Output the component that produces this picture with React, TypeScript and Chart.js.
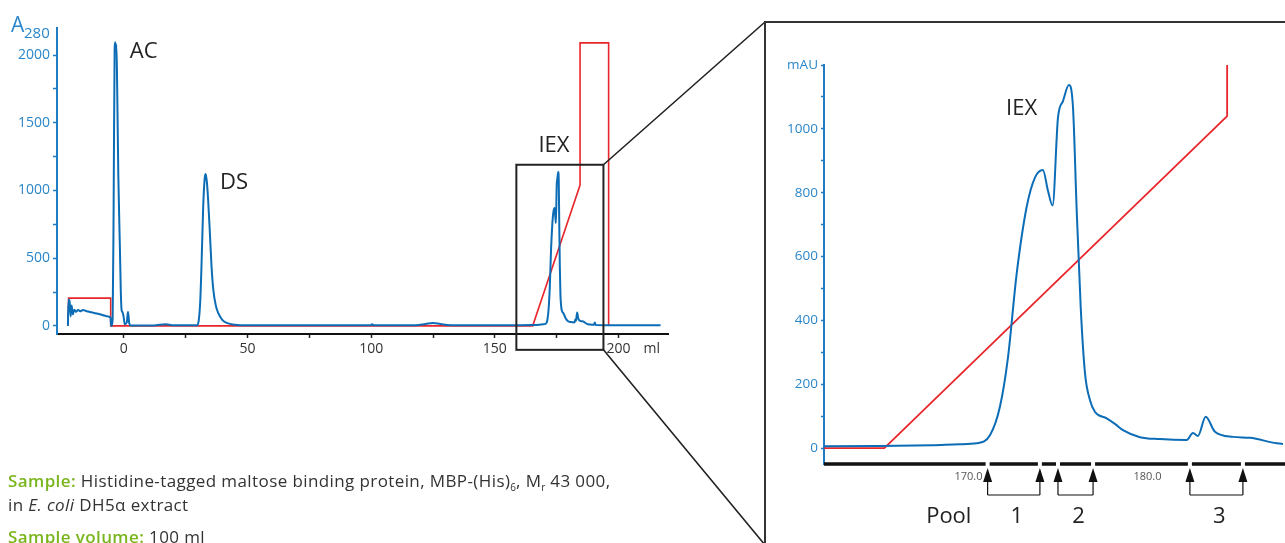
import React, { useEffect, useRef } from 'react';
import { Chart, registerables } from 'chart.js';

Chart.register(...registerables);

// ---- Data -------------------------------------------------------------
// A280 trace (mAU) against elution volume (ml)
const chromVolume = [
  -22.6, -22.3, -21.9, -21.5, -21.1, -20.6, -20.0, -19.3, -18.5, -17.6, -16.5, -15.0, -13.0, -11.0, -9.0, -7.0, -5.4,
  -5.1, -4.5, -4.1, -3.7, -3.5, -3.3, -3.0, -2.7, -2.2, -1.6, -1.2, -0.9, -0.5, -0.1, 0.4, 1.2, 1.7, 2.2, 2.8,
  5, 12, 17, 20,
  29.6, 30.3, 30.9, 31.4, 32.1, 32.7, 33.1, 33.6, 34.1, 34.8, 35.5, 36.2, 37.2, 38.2, 39.8, 41.6, 45, 50,
  99.8, 100.4, 101, 118, 122, 125, 128, 132, 160, 165, 168, 169.5,
  170.46, 171.2, 171.76, 172.21, 172.69, 173.25, 173.72, 174.16, 174.44, 174.7, 175.0, 175.28, 175.61, 175.84,
  176.04, 176.27, 176.51, 176.79, 177.07, 177.72, 178.2, 178.63, 179.58, 180.69, 182.19, 182.54, 182.82, 183.25,
  183.77, 184.78, 185.73, 187.22, 188.5, 190.0, 190.4, 190.8, 200, 217,
];
const chromA280 = [
  0, 195, 180, 70, 150, 85, 120, 105, 118, 108, 118, 108, 100, 92, 82, 72, 62,
  0, 50, 900, 2050, 2095, 2040, 2080, 1800, 1100, 600, 250, 118, 100, 70, 12, 25, 105, 20, 3,
  3, 3, 12, 4,
  4, 40, 180, 437, 880, 1090, 1122, 1060, 930, 686, 430, 266, 150, 94, 45, 22, 8, 4,
  4, 12, 4, 4, 14, 22, 14, 5, 5, 6, 9, 12,
  15, 40, 130, 285, 545, 755, 848, 871, 806, 760, 1035, 1087, 1137, 1066,
  754, 441, 234, 150, 113, 93, 75, 56, 34, 28, 25, 47, 38, 98,
  51, 35, 32, 15, 10, 8, 25, 6, 4, 4,
];

// Gradient / step trace (red)
const gradVolume = [-22.6, -22.3, -5.3, -5.3, 165.3, 184.45, 184.45, 196.0, 196.0];
const gradValue = [0, 205, 205, 0, 0, 1040, 2090, 2090, 0];

// Overview axes
const overviewXRange = [-27, 220];
const overviewYRange = [-60, 2200];
const overviewXTicks = [0, 25, 50, 75, 100, 125, 150, 175, 200];
const overviewYTicks = [0, 250, 500, 750, 1000, 1250, 1500, 1750, 2000];
const zoomWindowVolume = [158.7, 193.9];
const zoomWindowA280 = [-177, 1190];

// Zoomed (IEX) axes
const zoomXRange = [161.93, 187.57];
const zoomYRange = [-50, 1200];
const zoomXTicks = [170, 180];
const zoomYTicks = [0, 100, 200, 300, 400, 500, 600, 700, 800, 900, 1000, 1100, 1200];

// Fractions pooled
const fractionMarks = [171.07, 173.99, 175.0, 176.96, 182.37, 185.33];
const poolNames = ['1', '2', '3'];

// ---- Styles -----------------------------------------------------------
const FONT = '"Open Sans", "Noto Sans", sans-serif';
const BLUE = '#0c6db6';
const AXIS_BLUE = '#1f7bc2';
const LABEL_BLUE = '#2a86c9';
const RED = '#e8262b';
const DARK = '#222222';
const GREEN = '#7ab51d';

const toPoints = (xs: number[], ys: number[]) => xs.map((x, i) => ({ x, y: ys[i] }));

export default function App() {
  const leftRef = useRef<HTMLCanvasElement>(null);
  const rightRef = useRef<HTMLCanvasElement>(null);

  useEffect(() => {
    const panelLeft = 765;
    const panelTop = 22;

    const overviewDecor = {
      id: 'overviewDecor',
      afterDraw(chart: any) {
        const { ctx, chartArea } = chart;
        const x = chart.scales.x;
        const y = chart.scales.y;
        ctx.save();
        // zoom window box
        const bx0 = x.getPixelForValue(zoomWindowVolume[0]);
        const bx1 = x.getPixelForValue(zoomWindowVolume[1]);
        const by0 = y.getPixelForValue(zoomWindowA280[1]);
        const by1 = y.getPixelForValue(zoomWindowA280[0]);
        ctx.strokeStyle = DARK;
        ctx.lineWidth = 2;
        ctx.strokeRect(bx0, by0, bx1 - bx0, by1 - by0);
        // connectors
        ctx.lineWidth = 1.6;
        ctx.beginPath();
        ctx.moveTo(bx1, by0);
        ctx.lineTo(panelLeft, panelTop);
        ctx.moveTo(bx1, by1);
        const slope = (545 - by1) / (panelLeft - bx1);
        ctx.lineTo(panelLeft, by1 + slope * (panelLeft - bx1));
        ctx.stroke();
        // right panel frame
        ctx.lineWidth = 2;
        ctx.strokeStyle = '#333';
        ctx.beginPath();
        ctx.moveTo(panelLeft, chart.height);
        ctx.lineTo(panelLeft, panelTop);
        ctx.lineTo(chart.width, panelTop);
        ctx.stroke();
        // peak labels
        ctx.fillStyle = DARK;
        ctx.font = `22px ${FONT}`;
        ctx.textAlign = 'left';
        ctx.textBaseline = 'middle';
        ctx.fillText('AC', x.getPixelForValue(2.4), y.getPixelForValue(2022));
        ctx.fillText('DS', x.getPixelForValue(38.9), y.getPixelForValue(1055));
        ctx.fillText('IEX', x.getPixelForValue(167.6), y.getPixelForValue(1328));
        // axis titles
        ctx.fillStyle = LABEL_BLUE;
        ctx.textBaseline = 'alphabetic';
        ctx.font = `21px ${FONT}`;
        ctx.fillText('A', chartArea.left - 46, chartArea.top + 4);
        ctx.font = `15px ${FONT}`;
        ctx.fillText('280', chartArea.left - 33, chartArea.top + 10);
        ctx.fillStyle = '#333';
        ctx.font = `14px ${FONT}`;
        ctx.textBaseline = 'middle';
        ctx.fillText('ml', x.getPixelForValue(200) + 25, chartArea.bottom + 15);
        ctx.restore();
      },
    };

    const zoomDecor = {
      id: 'zoomDecor',
      afterDraw(chart: any) {
        const { ctx, chartArea } = chart;
        const x = chart.scales.x;
        const y = chart.scales.y;
        const base = chartArea.bottom;
        const marks = fractionMarks.map((v) => x.getPixelForValue(v));
        ctx.save();
        // thick x axis with gaps at fraction marks
        ctx.strokeStyle = '#111';
        ctx.lineWidth = 3.5;
        const gap = 2;
        let start = chartArea.left;
        ctx.beginPath();
        for (const m of marks) {
          ctx.moveTo(start, base);
          ctx.lineTo(m - gap, base);
          start = m + gap;
        }
        ctx.moveTo(start, base);
        ctx.lineTo(chart.width, base);
        ctx.stroke();
        // arrows
        ctx.fillStyle = '#111';
        ctx.lineWidth = 1.2;
        for (const m of marks) {
          ctx.beginPath();
          ctx.moveTo(m, base + 4);
          ctx.lineTo(m - 4.5, base + 18);
          ctx.lineTo(m + 4.5, base + 18);
          ctx.closePath();
          ctx.fill();
          ctx.beginPath();
          ctx.moveTo(m, base + 16);
          ctx.lineTo(m, base + 31);
          ctx.stroke();
        }
        // brackets + pool numbers
        ctx.font = `22px ${FONT}`;
        ctx.textAlign = 'center';
        ctx.textBaseline = 'middle';
        for (let i = 0; i < poolNames.length; i++) {
          const a = marks[2 * i];
          const b = marks[2 * i + 1];
          ctx.beginPath();
          ctx.moveTo(a, base + 31);
          ctx.lineTo(b, base + 31);
          ctx.stroke();
          ctx.fillStyle = DARK;
          ctx.fillText(poolNames[i], (a + b) / 2 + 3, base + 53);
        }
        ctx.fillText('Pool', x.getPixelForValue(168.9), base + 53);
        // IEX label
        ctx.textAlign = 'left';
        ctx.fillText('IEX', x.getPixelForValue(172.1), y.getPixelForValue(1062));
        ctx.restore();
      },
    };

    const left = new Chart(leftRef.current as HTMLCanvasElement, {
      type: 'line',
      data: {
        datasets: [
          {
            data: toPoints(chromVolume, chromA280),
            borderColor: BLUE,
            borderWidth: 2,
            pointRadius: 0,
            cubicInterpolationMode: 'monotone',
          },
          {
            data: toPoints(gradVolume, gradValue),
            borderColor: RED,
            borderWidth: 1.6,
            pointRadius: 0,
            tension: 0,
          },
        ],
      },
      options: {
        animation: false,
        responsive: false,
        events: [],
        layout: { padding: { left: 0, top: 28, right: 617, bottom: 179 } },
        plugins: { legend: { display: false }, tooltip: { enabled: false } },
        scales: {
          x: {
            type: 'linear',
            min: overviewXRange[0],
            max: overviewXRange[1],
            afterBuildTicks: (s: any) => {
              s.ticks = overviewXTicks.map((v) => ({ value: v }));
            },
            afterFit: (s: any) => {
              s.height = 30;
            },
            border: { display: true, color: '#111', width: 2 },
            grid: { display: true, drawOnChartArea: false, drawTicks: true, tickLength: 4, tickColor: '#222', tickWidth: 1.5 },
            ticks: {
              autoSkip: false,
              maxRotation: 0,
              padding: 3,
              color: '#333',
              font: { family: FONT, size: 14 },
              callback: (v: any) => (Number(v) % 50 === 0 ? String(v) : ''),
            },
          },
          y: {
            type: 'linear',
            min: overviewYRange[0],
            max: overviewYRange[1],
            afterBuildTicks: (s: any) => {
              s.ticks = overviewYTicks.map((v) => ({ value: v }));
            },
            afterFit: (s: any) => {
              s.width = 57;
            },
            border: { display: true, color: AXIS_BLUE, width: 2 },
            grid: { display: true, drawOnChartArea: false, drawTicks: true, tickLength: 4, tickColor: AXIS_BLUE, tickWidth: 1.5 },
            ticks: {
              autoSkip: false,
              padding: 3,
              color: LABEL_BLUE,
              font: { family: FONT, size: 14 },
              callback: (v: any) => (Number(v) % 500 === 0 ? String(v) : ''),
            },
          },
        },
      },
      plugins: [overviewDecor],
    } as any);

    const right = new Chart(rightRef.current as HTMLCanvasElement, {
      type: 'line',
      data: {
        datasets: [
          {
            data: toPoints(chromVolume, chromA280),
            borderColor: BLUE,
            borderWidth: 2,
            pointRadius: 0,
            cubicInterpolationMode: 'monotone',
          },
          {
            data: toPoints(gradVolume, gradValue),
            borderColor: RED,
            borderWidth: 1.8,
            pointRadius: 0,
            tension: 0,
          },
        ],
      },
      options: {
        animation: false,
        responsive: false,
        events: [],
        layout: { padding: { left: 0, top: 43, right: 2, bottom: 0 } },
        plugins: { legend: { display: false }, tooltip: { enabled: false } },
        scales: {
          x: {
            type: 'linear',
            min: zoomXRange[0],
            max: zoomXRange[1],
            afterBuildTicks: (s: any) => {
              s.ticks = zoomXTicks.map((v) => ({ value: v }));
            },
            afterFit: (s: any) => {
              s.height = 79;
            },
            border: { display: false },
            grid: { display: false, drawTicks: false },
            ticks: {
              autoSkip: false,
              maxRotation: 0,
              padding: 6,
              color: '#555',
              font: { family: FONT, size: 11 },
              callback: (v: any) => Number(v).toFixed(1),
            },
          },
          y: {
            type: 'linear',
            min: zoomYRange[0],
            max: zoomYRange[1],
            afterBuildTicks: (s: any) => {
              s.ticks = zoomYTicks.map((v) => ({ value: v }));
            },
            afterFit: (s: any) => {
              s.width = 59;
            },
            border: { display: true, color: AXIS_BLUE, width: 2 },
            grid: { display: true, drawOnChartArea: false, drawTicks: true, tickLength: 3, tickColor: AXIS_BLUE, tickWidth: 1.5 },
            ticks: {
              autoSkip: false,
              padding: 3,
              color: LABEL_BLUE,
              font: { family: FONT, size: 13.5 },
              callback: (v: any) => {
                const n = Number(v);
                if (n === 1200) return 'mAU';
                return n % 200 === 0 ? String(n) : '';
              },
            },
          },
        },
      },
      plugins: [zoomDecor],
    } as any);

    return () => {
      left.destroy();
      right.destroy();
    };
  }, []);

  const sub: React.CSSProperties = { fontSize: 10, verticalAlign: -4, lineHeight: 0, letterSpacing: 0 };
  const green: React.CSSProperties = { color: GREEN, fontWeight: 600 };

  return (
    <div style={{ position: 'absolute', left: 0, top: 0, width: 1285, height: 543, overflow: 'hidden', background: '#fff' }}>
      <canvas
        ref={leftRef}
        width={1285}
        height={543}
        style={{ position: 'absolute', left: 0, top: 0, width: 1285, height: 543 }}
      />
      <canvas
        ref={rightRef}
        width={520}
        height={521}
        style={{ position: 'absolute', left: 765, top: 22, width: 520, height: 521 }}
      />
      <div
        style={{
          position: 'absolute',
          left: 8,
          top: 469,
          fontFamily: FONT,
          fontSize: 17,
          letterSpacing: 0.4,
          lineHeight: '24px',
          color: '#333',
          whiteSpace: 'nowrap',
        }}
      >
        <div>
          <span style={green}>Sample:</span> Histidine-tagged maltose binding protein, MBP-(His)
          <span style={sub}>6</span>, M<span style={sub}>r</span> 43 000,
        </div>
        <div>
          in <i>E. coli</i> DH5α extract
        </div>
        <div style={{ marginTop: 8 }}>
          <span style={green}>Sample volume:</span> 100 ml
        </div>
      </div>
    </div>
  );
}
